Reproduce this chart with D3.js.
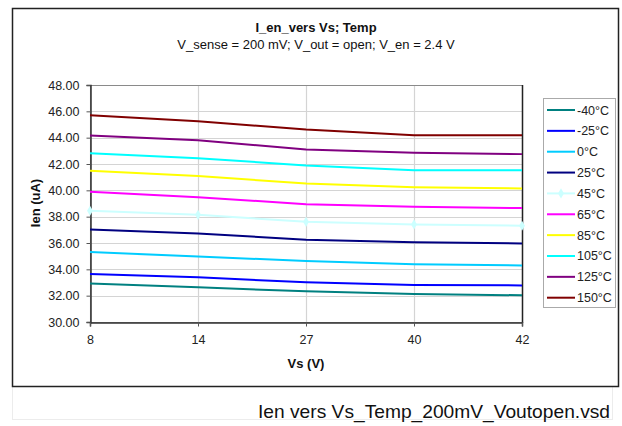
<!DOCTYPE html>
<html>
<head>
<meta charset="utf-8">
<script src="https://cdn.jsdelivr.net/npm/d3@7"></script>
<style>
  html, body { margin: 0; padding: 0; background: #fff; }
  svg { display: block; font-family: Arial, "Liberation Sans", sans-serif; }
</style>
</head>
<body>
<svg id="chart" width="622" height="426"></svg>
<script>
// Supply voltage categories (V)
const vsLabels = ["8", "14", "27", "40", "42"];
// Y axis ticks (uA)
const yTicks = [30, 32, 34, 36, 38, 40, 42, 44, 46, 48];

// Enable current per temperature (uA)
const seriesNames = ["-40°C", "-25°C", "0°C", "25°C", "45°C", "65°C", "85°C", "105°C", "125°C", "150°C"];
const iM40  = [32.93, 32.63, 32.33, 32.12, 32.03];
const iM25  = [33.64, 33.39, 33.01, 32.81, 32.78];
const i0    = [35.31, 34.98, 34.63, 34.38, 34.30];
const i25   = [37.03, 36.73, 36.25, 36.05, 35.97];
const i45   = [38.45, 38.14, 37.61, 37.41, 37.31];
const i65   = [39.89, 39.48, 38.95, 38.75, 38.65];
const i85   = [41.48, 41.08, 40.52, 40.24, 40.14];
const i105  = [42.82, 42.44, 41.89, 41.53, 41.53];
const i125  = [44.17, 43.80, 43.10, 42.85, 42.75];
const i150  = [45.70, 45.25, 44.62, 44.18, 44.18];
const seriesColors = ["#008080", "#0000ff", "#00ccff", "#000080", "#ccffff",
                      "#ff00ff", "#ffff00", "#00ffff", "#800080", "#800000"];

const seriesValues = [iM40, iM25, i0, i25, i45, i65, i85, i105, i125, i150];
const series = seriesNames.map((name, k) => ({ name, values: seriesValues[k], color: seriesColors[k] }));

const svg = d3.select("#chart");

// Outer chart frame and the caption strip below it
svg.append("rect").attr("x", 12.5).attr("y", 386.5).attr("width", 600).attr("height", 33)
  .attr("fill", "none").attr("stroke", "#ececec");
svg.append("rect").attr("x", 12.5).attr("y", 8.5).attr("width", 606).attr("height", 378)
  .attr("fill", "#fff").attr("stroke", "#222").attr("stroke-width", 1.5);

const plot = { left: 90, right: 522, top: 85, bottom: 322 };

const x = d3.scalePoint().domain(vsLabels).range([plot.left, plot.right]).padding(0);
const y = d3.scaleLinear().domain([30, 48]).range([plot.bottom, plot.top]);

// Gridlines
svg.append("g").selectAll("line").data(yTicks).join("line")
  .attr("x1", plot.left).attr("x2", plot.right)
  .attr("y1", d => Math.round(y(d)) + 0.5).attr("y2", d => Math.round(y(d)) + 0.5)
  .attr("stroke", "#d4d4d4").attr("stroke-width", 1.2);
svg.append("g").selectAll("line").data(vsLabels).join("line")
  .attr("x1", d => Math.round(x(d)) + 0.5).attr("x2", d => Math.round(x(d)) + 0.5)
  .attr("y1", plot.top).attr("y2", plot.bottom)
  .attr("stroke", "#d4d4d4").attr("stroke-width", 1.2);

// Plot area border
svg.append("rect").attr("x", plot.left + 0.5).attr("y", plot.top + 0.5)
  .attr("width", plot.right - plot.left).attr("height", plot.bottom - plot.top)
  .attr("fill", "none").attr("stroke", "#8a8a8a");
svg.append("line").attr("x1", plot.right + 0.5).attr("x2", plot.right + 0.5)
  .attr("y1", plot.top).attr("y2", plot.bottom + 1).attr("stroke", "#222").attr("stroke-width", 1.5);

// Axes
const yAxis = d3.axisLeft(y).tickValues(yTicks).tickFormat(d3.format(".2f")).tickSize(4).tickPadding(7);
const gy = svg.append("g").attr("transform", `translate(${plot.left + 0.5},0)`).call(yAxis);
const xAxis = d3.axisBottom(x).tickSize(4).tickPadding(9);
const gx = svg.append("g").attr("transform", `translate(0,${plot.bottom + 0.5})`).call(xAxis);
[gy, gx].forEach(g => {
  g.select(".domain").attr("stroke", "#333").attr("stroke-width", 1.5);
  g.selectAll(".tick line").attr("stroke", "#555");
  g.selectAll("text").attr("fill", "#222").style("font-size", "12.5px")
    .style("font-family", "Arial, 'Liberation Sans', sans-serif");
});

// Series lines
const line = d3.line().x((d, i) => x(vsLabels[i])).y(d => y(d));
const gLines = svg.append("g");
series.forEach(s => {
  gLines.append("path").datum(s.values).attr("d", line)
    .attr("fill", "none").attr("stroke", s.color).attr("stroke-width", 2)
    .attr("stroke-linejoin", "round");
});
// Diamond markers on the 45°C series
const s45 = series[4];
gLines.append("g").selectAll("path").data(s45.values).join("path")
  .attr("d", d3.symbol().type(d3.symbolDiamond).size(30))
  .attr("transform", (d, i) => `translate(${x(vsLabels[i])},${y(d)})`)
  .attr("fill", s45.color);

// Titles
svg.append("text").attr("x", 316).attr("y", 32).attr("text-anchor", "middle")
  .style("font-size", "13px").style("font-weight", "bold").attr("fill", "#111")
  .text("I_en_vers Vs; Temp");
svg.append("text").attr("x", 316).attr("y", 49).attr("text-anchor", "middle")
  .style("font-size", "13px").attr("fill", "#111")
  .text("V_sense = 200 mV; V_out = open; V_en = 2.4 V");

// Axis titles
svg.append("text").attr("transform", "translate(40,203) rotate(-90)").attr("text-anchor", "middle")
  .style("font-size", "13px").style("font-weight", "bold").attr("fill", "#111")
  .text("Ien (uA)");
svg.append("text").attr("x", 306).attr("y", 368).attr("text-anchor", "middle")
  .style("font-size", "13px").style("font-weight", "bold").attr("fill", "#111")
  .text("Vs (V)");

// Legend
const legend = svg.append("g");
legend.append("rect").attr("x", 543.5).attr("y", 98.5).attr("width", 72).attr("height", 209)
  .attr("fill", "#fff").attr("stroke", "#aaa");
const rowY = d3.scalePoint().domain(seriesNames).range([110, 297.7]);
series.forEach(s => {
  const yy = rowY(s.name);
  legend.append("line").attr("x1", 547).attr("x2", 575).attr("y1", yy).attr("y2", yy)
    .attr("stroke", s.color).attr("stroke-width", 2);
  if (s.name === "45°C") {
    legend.append("path").attr("d", d3.symbol().type(d3.symbolDiamond).size(30)())
      .attr("transform", `translate(561,${yy})`).attr("fill", s.color);
  }
  legend.append("text").attr("x", 577).attr("y", yy + 4.5)
    .style("font-size", "12.5px").attr("fill", "#222").text(s.name);
});

// File caption
svg.append("text").attr("x", 610).attr("y", 418).attr("text-anchor", "end")
  .style("font-size", "19px").attr("fill", "#111")
  .attr("textLength", 352).attr("lengthAdjust", "spacingAndGlyphs")
  .text("Ien vers Vs_Temp_200mV_Voutopen.vsd");
</script>
</body>
</html>
